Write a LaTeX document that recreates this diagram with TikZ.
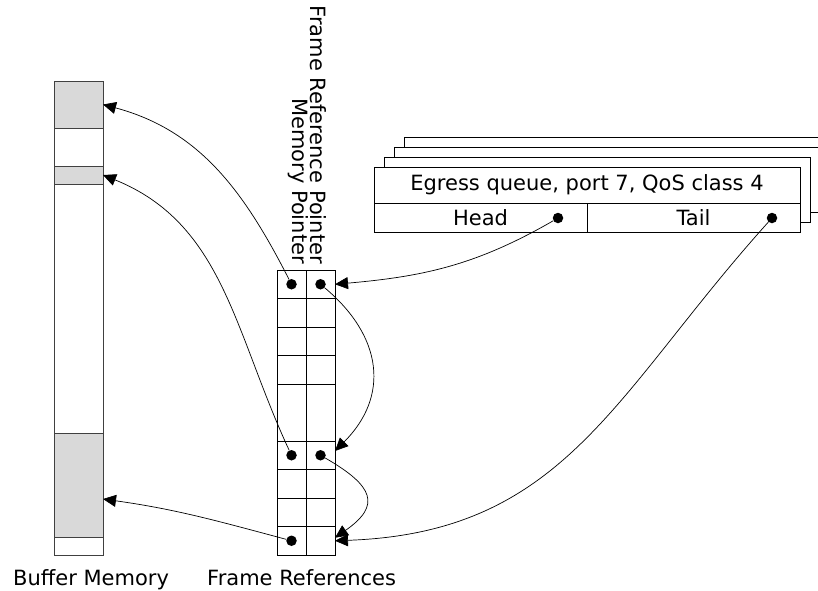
\documentclass[tikz,border=0pt]{standalone}
\usepackage{fontspec}
\setmainfont{DejaVu Sans}
\usetikzlibrary{arrows.meta, positioning, calc}
\tikzset{
	lbl/.style={font=\fontsize{21}{25}\selectfont, inner sep=0pt},
	bufcol/.style={rectangle, draw=black!75, line width=0.8pt, minimum width=49pt, minimum height=474pt, inner sep=0pt, outer sep=0pt},
	memblock/.style={rectangle, draw=black!75, fill=gray!30, line width=0.8pt, minimum width=49pt, inner sep=0pt, outer sep=0pt},
	cell/.style={rectangle, draw, line width=0.8pt, minimum width=29pt, minimum height=28.5pt, inner sep=0pt, outer sep=0pt},
	tallcell/.style={cell, minimum height=57pt},
	dot/.style={circle, fill, minimum size=10.5pt, inner sep=0pt},
	qback/.style={draw, fill=white, line width=0.8pt},
	qcell/.style={rectangle, draw, fill=white, line width=0.8pt, minimum width=213pt, minimum height=29pt, inner sep=0pt, outer sep=0pt, font=\fontsize{21}{25}\selectfont},
	ptr/.style={-{Triangle[length=13pt, width=12pt]}, line width=0.7pt},
}

\begin{document}
\begin{tikzpicture}[x=1pt, y=1pt, node distance=0pt]
	\useasboundingbox (0,0) rectangle (818,-590);
	\clip (0,0) rectangle (818,-590);
	% buffer memory
	\node[bufcol] (bufmem) at (78.5,-318) {};
	\node[memblock, minimum height=47pt] (bufA) at (78.5,-104.5) {};
	\node[memblock, minimum height=18pt] (bufB) at (78.5,-175) {};
	\node[memblock, minimum height=104pt] (bufC) at (78.5,-485) {};
	% frame references
	\node[cell] (m0) at (291.5,-284.25) {};
	\node[cell, right=of m0] (f0) {};
	\node[cell, below=of m0] (m1) {};
	\node[cell, right=of m1] (f1) {};
	\node[cell, below=of m1] (m2) {};
	\node[cell, right=of m2] (f2) {};
	\node[cell, below=of m2] (m3) {};
	\node[cell, right=of m3] (f3) {};
	\node[tallcell, below=of m3] (m4) {};
	\node[tallcell, right=of m4] (f4) {};
	\node[cell, below=of m4] (m5) {};
	\node[cell, right=of m5] (f5) {};
	\node[cell, below=of m5] (m6) {};
	\node[cell, right=of m6] (f6) {};
	\node[cell, below=of m6] (m7) {};
	\node[cell, right=of m7] (f7) {};
	\node[cell, below=of m7] (m8) {};
	\node[cell, right=of m8] (f8) {};
	\node[dot] (dm0) at (m0) {};
	\node[dot] (df0) at (f0) {};
	\node[dot] (dm5) at (m5) {};
	\node[dot] (df5) at (f5) {};
	\node[dot] (dm8) at (m8) {};
	\node[lbl, rotate=-90, anchor=base east] (mplbl) at (292,-264) {Memory Pointer};
	\node[lbl, rotate=-90, anchor=base east] (frlbl) at (310,-264) {Frame Reference Pointer};
	% egress queues
	\foreach \k in {3,2,1}
		\draw[qback] (374+10*\k,-167+10*\k) rectangle +(426,-65);
	\node[qcell, minimum width=426pt, minimum height=36pt] (title) at (587,-185) {Egress queue, port 7, QoS class 4};
	\node[qcell] (head) at (480.5,-217.5) {Head};
	\node[qcell] (tail) at (693.5,-217.5) {Tail};
	\node[dot] (hdot) at (558,-218) {};
	\node[dot] (tdot) at (772,-218) {};
	% labels
	\node[lbl, anchor=base west] (buflbl) at (13,-585) {Buffer Memory};
	\node[lbl, anchor=base west] (reflbl) at (207,-585) {Frame References};
	% pointers
	\draw[ptr] (dm0) to[out=117, in=-15] (bufA.east);
	\draw[ptr] (dm5) to[out=115, in=-22] (bufB.east);
	\draw[ptr] (dm8) to[out=165, in=-8] ([yshift=-14pt]bufC.east);
	\draw[ptr] (hdot) to[out=210, in=5] (f0.east);
	\draw[ptr] (tdot) to[out=228, in=2, looseness=1.1] (f8.east);
	\draw[ptr] (df0) to[out=-40, in=45, looseness=1.2] ([yshift=-10pt]f5.north east);
	\draw[ptr] (df5) to[out=-30, in=35, looseness=1.8] ([yshift=3pt]f8.east);
\end{tikzpicture}
\end{document}
